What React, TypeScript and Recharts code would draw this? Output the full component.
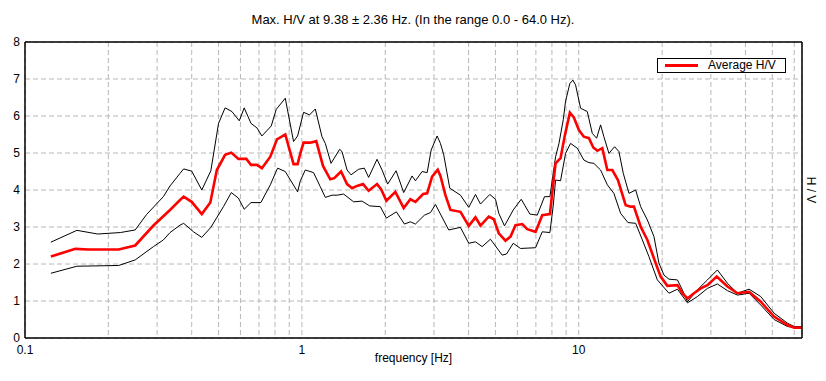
import React from 'react';
import { LineChart, Line, XAxis, YAxis, CartesianGrid, ReferenceLine } from 'recharts';

const upperFreq = [0.124, 0.154, 0.183, 0.221, 0.25, 0.275, 0.316, 0.334, 0.363, 0.374, 0.4, 0.435, 0.469, 0.5, 0.528, 0.559, 0.594, 0.619, 0.655, 0.688, 0.717, 0.775, 0.808, 0.871, 0.933, 0.965, 1.014, 1.066, 1.118, 1.182, 1.215, 1.274, 1.369, 1.396, 1.456, 1.505, 1.603, 1.681, 1.742, 1.868, 1.948, 2.041, 2.189, 2.332, 2.5, 2.57, 2.718, 2.834, 2.93, 3.079, 3.165, 3.253, 3.42, 3.738, 4.006, 4.235, 4.416, 4.771, 5.003, 5.142, 5.391, 5.798, 6.197, 6.657, 7.08, 7.52, 7.865, 8.246, 8.477, 8.79, 8.96, 9.286, 9.521, 9.737, 10.15, 10.73, 11.19, 11.6, 11.99, 12.32, 12.85, 13.47, 13.96, 14.48, 15.18, 16.05, 16.73, 17.69, 18.69, 19.48, 20.31, 21.17, 22.71, 23.67, 24.69, 26.82, 29.15, 31.67, 34.43, 37.41, 41.21, 45.42, 50.75, 56.74, 59.95, 64];
const upperHV = [2.59, 2.91, 2.81, 2.85, 2.92, 3.34, 3.82, 4.11, 4.45, 4.57, 4.51, 4.0, 4.52, 5.8, 6.22, 6.12, 5.87, 6.22, 5.8, 5.68, 5.46, 5.73, 6.18, 6.48, 5.31, 5.46, 6.1, 6.03, 6.19, 5.44, 5.26, 4.72, 5.1, 5.04, 4.54, 4.41, 4.56, 4.59, 4.34, 4.83, 4.54, 4.16, 4.52, 3.93, 4.38, 4.25, 4.5, 4.47, 5.08, 5.46, 5.26, 4.95, 4.05, 3.86, 3.53, 3.88, 3.62, 3.88, 3.75, 3.37, 3.03, 3.46, 3.75, 3.35, 3.32, 3.82, 3.82, 4.9, 5.25, 5.9, 6.4, 6.88, 6.97, 6.84, 6.21, 6.12, 5.53, 5.4, 5.76, 5.44, 4.99, 5.17, 5.04, 4.45, 3.91, 4.0, 3.55, 3.19, 2.74, 2.02, 1.7, 1.59, 1.57, 1.3, 0.98, 1.3, 1.57, 1.84, 1.48, 1.21, 1.32, 1.12, 0.67, 0.4, 0.31, 0.31];

const avgFreq = [0.124, 0.152, 0.169, 0.218, 0.25, 0.291, 0.334, 0.363, 0.374, 0.4, 0.435, 0.467, 0.493, 0.528, 0.556, 0.59, 0.63, 0.655, 0.688, 0.717, 0.769, 0.813, 0.871, 0.933, 0.965, 0.987, 1.014, 1.072, 1.127, 1.192, 1.266, 1.309, 1.385, 1.456, 1.518, 1.582, 1.663, 1.742, 1.868, 1.932, 2.019, 2.176, 2.332, 2.465, 2.57, 2.741, 2.834, 2.953, 3.095, 3.165, 3.299, 3.44, 3.738, 4.006, 4.235, 4.416, 4.732, 4.933, 5.142, 5.437, 5.668, 5.909, 6.249, 6.515, 6.981, 7.38, 7.865, 8.09, 8.246, 8.594, 8.886, 9.286, 9.6, 10.01, 10.43, 10.88, 11.28, 11.67, 12.16, 12.68, 13.22, 13.85, 14.77, 15.39, 15.82, 16.73, 17.69, 18.96, 19.76, 20.89, 22.71, 23.67, 24.69, 26.07, 27.56, 29.15, 31.49, 34.43, 37.41, 41.21, 45.42, 50.75, 56.74, 59.95, 64];
const avgHV = [2.2, 2.41, 2.39, 2.39, 2.5, 3.04, 3.46, 3.73, 3.82, 3.68, 3.35, 3.66, 4.54, 4.95, 5.01, 4.84, 4.84, 4.68, 4.68, 4.59, 4.9, 5.37, 5.5, 4.7, 4.7, 4.99, 5.28, 5.28, 5.32, 4.65, 4.29, 4.32, 4.5, 4.16, 4.05, 4.11, 4.16, 3.98, 4.16, 4.02, 3.71, 3.95, 3.51, 3.75, 3.68, 3.89, 3.91, 4.36, 4.55, 4.38, 3.86, 3.46, 3.41, 3.03, 3.26, 3.04, 3.28, 3.21, 2.83, 2.63, 2.74, 3.05, 3.08, 2.94, 2.87, 3.32, 3.35, 4.18, 4.72, 4.86, 5.44, 6.09, 5.96, 5.62, 5.44, 5.4, 5.15, 5.06, 5.13, 4.54, 4.54, 4.27, 3.59, 3.55, 3.55, 3.01, 2.65, 2.02, 1.66, 1.41, 1.43, 1.21, 1.07, 1.21, 1.34, 1.43, 1.66, 1.39, 1.21, 1.25, 0.98, 0.58, 0.35, 0.28, 0.28];

const lowerFreq = [0.124, 0.154, 0.218, 0.25, 0.291, 0.316, 0.334, 0.363, 0.374, 0.406, 0.435, 0.469, 0.521, 0.556, 0.59, 0.619, 0.655, 0.711, 0.769, 0.817, 0.871, 0.965, 0.987, 1.029, 1.102, 1.165, 1.215, 1.285, 1.34, 1.415, 1.538, 1.649, 1.757, 1.92, 2.019, 2.194, 2.346, 2.465, 2.57, 2.771, 2.913, 3.037, 3.165, 3.391, 3.738, 4.006, 4.235, 4.478, 4.798, 5.289, 5.483, 5.798, 6.161, 6.981, 7.38, 7.865, 8.09, 8.246, 8.594, 8.96, 9.341, 9.876, 10.43, 10.88, 11.34, 11.99, 12.68, 13.39, 14.16, 15.05, 16.05, 16.97, 17.92, 19.22, 21.17, 22.71, 24.69, 26.82, 29.15, 31.67, 34.43, 37.41, 41.21, 45.42, 50.75, 56.74, 64];
const lowerHV = [1.75, 1.94, 1.96, 2.11, 2.47, 2.65, 2.85, 3.05, 3.1, 2.87, 2.72, 2.99, 3.55, 3.93, 3.78, 3.48, 3.66, 3.66, 4.14, 4.59, 4.5, 3.95, 4.25, 4.54, 4.47, 4.09, 3.8, 3.86, 3.86, 3.89, 3.68, 3.7, 3.57, 3.55, 3.24, 3.41, 3.08, 3.14, 3.08, 3.32, 3.39, 3.61, 3.35, 2.92, 2.99, 2.56, 2.6, 2.47, 2.67, 2.24, 2.27, 2.56, 2.42, 2.44, 2.87, 2.85, 3.59, 4.27, 4.25, 4.99, 5.26, 5.13, 4.81, 4.74, 4.72, 4.54, 4.14, 3.91, 3.37, 3.12, 3.1, 2.65, 2.2, 1.57, 1.21, 1.32, 0.95, 1.12, 1.34, 1.46, 1.28, 1.16, 1.21, 0.89, 0.5, 0.31, 0.26];

const xGridTicks = [0.1, 0.2, 0.3, 0.4, 0.5, 0.6, 0.7, 0.8, 0.9, 1, 2, 3, 4, 5, 6, 7, 8, 9, 10, 20, 30, 40, 50, 60];
const xLabelTicks = [0.1, 1, 10];
const yTicks = [0, 1, 2, 3, 4, 5, 6, 7, 8];

const titleText = 'Max. H/V at 9.38 \u00b1 2.36 Hz. (In the range 0.0 - 64.0 Hz).';
const legendText = 'Average H/V';

const build = (fs: number[], vs: number[]) => fs.map((f, i) => ({ f, v: vs[i] }));
const upperData = build(upperFreq, upperHV);
const avgData = build(avgFreq, avgHV);
const lowerData = build(lowerFreq, lowerHV);

const FONT = '"Liberation Sans", Arial, sans-serif';

const LegendBox = () => (
  <div
    style={{
      position: 'absolute',
      left: 657,
      top: 58,
      width: 127,
      height: 13,
      border: '1px solid #000',
      background: '#fff',
      fontFamily: FONT,
      fontSize: 12,
      color: '#000',
    }}
  >
    <div style={{ position: 'absolute', left: 7, top: 5, width: 33, height: 3, background: '#ff0000' }} />
    <div style={{ position: 'absolute', left: 50, top: -1, lineHeight: '15px', whiteSpace: 'nowrap' }}>{legendText}</div>
  </div>
);

export default function App() {
  return (
    <div style={{ position: 'absolute', left: 0, top: 0, width: 826, height: 381, background: '#fff' }}>
      <div
        style={{
          position: 'absolute',
          left: 0,
          top: 12,
          width: 826,
          textAlign: 'center',
          fontFamily: FONT,
          fontSize: 13,
          lineHeight: '16px',
          color: '#000',
        }}
      >
        {titleText}
      </div>
      <LineChart width={826} height={381} margin={{ top: 42, right: 0, bottom: 0, left: 0 }} style={{ fontFamily: FONT }}>
        <CartesianGrid stroke="#b8b8b8" strokeDasharray="5 3" />
        <XAxis
          dataKey="f"
          type="number"
          scale="log"
          domain={[0.1, 64]}
          allowDataOverflow
          ticks={xGridTicks}
          interval={0}
          tickFormatter={(t: number) => (xLabelTicks.includes(t) ? String(t) : '')}
          tickLine={false}
          tickSize={5}
          tickMargin={2}
          height={43}
          axisLine={{ stroke: '#000', strokeWidth: 1.5 }}
          tick={{ fill: '#000', fontSize: 12 }}
          label={{ value: 'frequency [Hz]', position: 'insideBottom', offset: 19, fill: '#000', fontSize: 12 }}
        />
        <YAxis
          type="number"
          domain={[0, 8]}
          ticks={yTicks}
          interval={0}
          width={25}
          tickLine={false}
          tickSize={3}
          tickMargin={2}
          axisLine={{ stroke: '#000', strokeWidth: 1.5 }}
          tick={{ fill: '#000', fontSize: 12 }}
        />
        <YAxis
          yAxisId="r"
          orientation="right"
          type="number"
          domain={[0, 8]}
          width={24}
          tick={false}
          tickLine={false}
          axisLine={{ stroke: '#000', strokeWidth: 1.5 }}
          label={{ value: 'H / V', angle: 90, position: 'center', dx: -3, fill: '#000', fontSize: 12 }}
        />
        <ReferenceLine y={8} stroke="#000" strokeWidth={1.5} />
        <Line data={upperData} dataKey="v" type="linear" stroke="#000" strokeWidth={1} dot={false} isAnimationActive={false} />
        <Line data={lowerData} dataKey="v" type="linear" stroke="#000" strokeWidth={1} dot={false} isAnimationActive={false} />
        <Line data={avgData} dataKey="v" name={legendText} type="linear" stroke="#ff0000" strokeWidth={2.6} dot={false} isAnimationActive={false} />
      </LineChart>
      <LegendBox />
    </div>
  );
}
